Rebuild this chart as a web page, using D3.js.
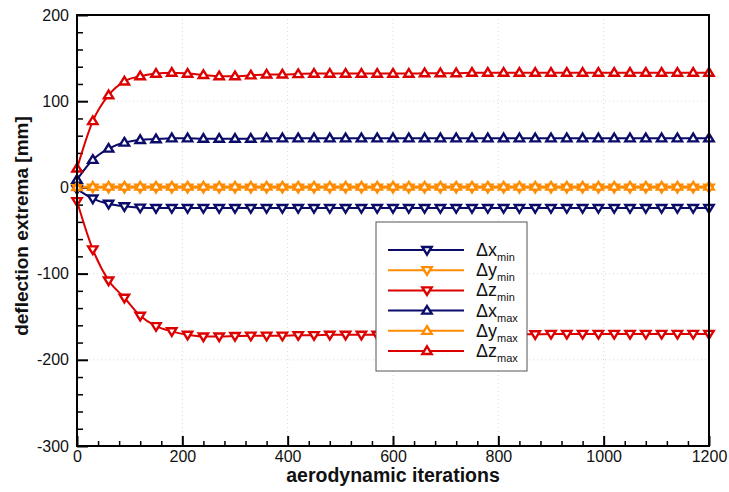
<!DOCTYPE html>
<html>
<head>
<meta charset="utf-8">
<script src="https://cdn.jsdelivr.net/npm/d3@7"></script>
<style>
  html, body { margin: 0; padding: 0; background: #fff; }
  svg { display: block; font-family: "Liberation Sans", Arial, sans-serif; }
</style>
</head>
<body>
<svg id="chart" width="729" height="492"></svg>
<script>
// iteration samples (every 30 aerodynamic iterations)
const iterations = [0, 30, 60, 90, 120, 150, 180, 210, 240, 270, 300, 330, 360, 390, 420, 450, 480, 510, 540, 570, 600,
  630, 660, 690, 720, 750, 780, 810, 840, 870, 900, 930, 960, 990, 1020, 1050, 1080, 1110, 1140, 1170, 1200];

const dxMin = [-2, -13, -19, -22, -23.5, -24, -24, -24, -24, -24, -24, -24, -24, -24, -24, -24, -24, -24, -24, -24, -24,
  -24, -24, -24, -24, -24, -24, -24, -24, -24, -24, -24, -24, -24, -24, -24, -24, -24, -24, -24, -24];
const dyMin = [0, -0.3, -0.4, -0.4, -0.4, -0.4, -0.4, -0.4, -0.4, -0.4, -0.4, -0.4, -0.4, -0.4, -0.4, -0.4, -0.4, -0.4, -0.4, -0.4, -0.4,
  -0.4, -0.4, -0.4, -0.4, -0.4, -0.4, -0.4, -0.4, -0.4, -0.4, -0.4, -0.4, -0.4, -0.4, -0.4, -0.4, -0.4, -0.4, -0.4, -0.4];
const dzMin = [-16, -72, -108, -128, -149, -161, -167, -171, -173, -173, -172.5, -172, -172, -172, -171.5, -171.5, -171, -171, -171, -171, -171,
  -171, -170.5, -170.5, -170.5, -170.5, -170.5, -170.5, -170.5, -170.5, -170, -170, -170, -170, -170, -170, -170, -170, -170, -170, -170];
const dxMax = [9, 32, 45, 52, 55, 56, 57, 57, 56.5, 56.5, 56.5, 56.5, 57, 57, 57, 57, 57, 57, 57, 57, 57,
  57, 57, 57, 57, 57, 57, 57, 57, 57, 57, 57, 57, 57, 57, 57, 57, 57, 57, 57, 57];
const dyMax = [0.5, 0.8, 1, 1, 1, 1, 1, 1, 1, 1, 1, 1, 1, 1, 1, 1, 1, 1, 1, 1, 1,
  1, 1, 1, 1, 1, 1, 1, 1, 1, 1, 1, 1, 1, 1, 1, 1, 1, 1, 1, 1];
const dzMax = [22, 77, 107, 123, 129, 132, 133, 132, 130.5, 129, 129, 130, 131, 131, 131.5, 132, 132, 132, 132, 132, 132,
  132, 132.5, 132.5, 132.5, 133, 133, 133, 133, 133, 133, 133, 133, 133, 133, 133, 133, 133, 133, 133, 133];

const xTicks = [0, 200, 400, 600, 800, 1000, 1200];
const yTicks = [-300, -200, -100, 0, 100, 200];

const series = [
  { sym: "x", sub: "min", values: dxMin, color: "#0b0b6a", dir: "down" },
  { sym: "y", sub: "min", values: dyMin, color: "#ff8c00", dir: "down" },
  { sym: "z", sub: "min", values: dzMin, color: "#dd0000", dir: "down" },
  { sym: "x", sub: "max", values: dxMax, color: "#0b0b6a", dir: "up" },
  { sym: "y", sub: "max", values: dyMax, color: "#ff8c00", dir: "up" },
  { sym: "z", sub: "max", values: dzMax, color: "#dd0000", dir: "up" }
];

const svg = d3.select("#chart");
const W = 729, H = 492;
const m = { left: 77, right: 20, top: 15, bottom: 46 };
const pw = W - m.left - m.right, ph = H - m.top - m.bottom;

const x = d3.scaleLinear().domain([0, 1200]).range([0, pw]);
const y = d3.scaleLinear().domain([-300, 200]).range([ph, 0]);

const g = svg.append("g").attr("transform", `translate(${m.left},${m.top})`);

// dotted grid at the major ticks
g.append("g").selectAll("line").data(xTicks.slice(1, -1)).join("line")
  .attr("x1", d => x(d)).attr("x2", d => x(d)).attr("y1", 0).attr("y2", ph)
  .attr("stroke", "#d8d8d8").attr("stroke-width", 1).attr("stroke-dasharray", "1,3");
g.append("g").selectAll("line").data(yTicks.slice(1, -1)).join("line")
  .attr("x1", 0).attr("x2", pw).attr("y1", d => y(d)).attr("y2", d => y(d))
  .attr("stroke", "#d8d8d8").attr("stroke-width", 1).attr("stroke-dasharray", "1,3");

// minor ticks (inward)
const xMinor = d3.range(0, 1201, 40).filter(v => v % 200 !== 0);
const yMinor = d3.range(-300, 201, 20).filter(v => v % 100 !== 0);
g.append("g").attr("transform", `translate(0,${ph})`)
  .call(d3.axisBottom(x).tickValues(xMinor).tickSize(-5).tickFormat(""))
  .call(a => a.select(".domain").remove())
  .call(a => a.selectAll("line").attr("stroke", "#000").attr("stroke-width", 1.5));
g.append("g")
  .call(d3.axisLeft(y).tickValues(yMinor).tickSize(-6).tickFormat(""))
  .call(a => a.select(".domain").remove())
  .call(a => a.selectAll("line").attr("stroke", "#000").attr("stroke-width", 1.5));

// major ticks with labels (plain hyphen for negatives)
const fmt = d => String(d);
const xAxis = g.append("g").attr("transform", `translate(0,${ph})`)
  .call(d3.axisBottom(x).tickValues(xTicks).tickSizeInner(-10).tickSizeOuter(0).tickPadding(5).tickFormat(fmt))
  .call(a => a.select(".domain").remove());
xAxis.selectAll("line").attr("stroke", "#000").attr("stroke-width", 2);
xAxis.selectAll("text").attr("font-size", 16).attr("fill", "#111")
  .attr("font-family", "Liberation Sans, Arial, sans-serif");

const yAxis = g.append("g")
  .call(d3.axisLeft(y).tickValues(yTicks).tickSizeInner(-11).tickSizeOuter(0).tickPadding(8).tickFormat(fmt))
  .call(a => a.select(".domain").remove());
yAxis.selectAll("line").attr("stroke", "#000").attr("stroke-width", 2);
yAxis.selectAll("text").attr("font-size", 16).attr("fill", "#111")
  .attr("font-family", "Liberation Sans, Arial, sans-serif");

// marker path: triangle pointing up or down
function tri(dir, s) {
  const h = s * 0.9, w = s * 0.55;
  return dir === "up"
    ? `M0,${-h * 0.6}L${w},${h * 0.4}L${-w},${h * 0.4}Z`
    : `M0,${h * 0.6}L${w},${-h * 0.4}L${-w},${-h * 0.4}Z`;
}

const line = d3.line().x((d, i) => x(iterations[i])).y(d => y(d)).curve(d3.curveMonotoneX);

const plot = g.append("g");
series.forEach(s => {
  plot.append("path").datum(s.values).attr("d", line)
    .attr("fill", "none").attr("stroke", s.color).attr("stroke-width", 2);
});
series.forEach(s => {
  plot.append("g").selectAll("path").data(s.values).join("path")
    .attr("transform", (d, i) => `translate(${x(iterations[i])},${y(d)})`)
    .attr("d", tri(s.dir, 8.5))
    .attr("fill", "#fff").attr("stroke", s.color).attr("stroke-width", 2.4)
    .attr("stroke-linejoin", "miter");
});

// frame
g.append("rect").attr("x", 0).attr("y", 0).attr("width", pw).attr("height", ph)
  .attr("fill", "none").attr("stroke", "#000").attr("stroke-width", 2);

// axis titles
svg.append("text").attr("x", m.left + pw / 2).attr("y", 482)
  .attr("text-anchor", "middle").attr("font-size", 19.5).attr("font-weight", "bold").attr("fill", "#111")
  .text("aerodynamic iterations");
svg.append("text").attr("transform", "translate(28,226) rotate(-90)")
  .attr("text-anchor", "middle").attr("font-size", 19).attr("font-weight", "bold").attr("fill", "#111")
  .text("deflection extrema [mm]");

// legend
const lg = svg.append("g").attr("transform", "translate(376,222)");
lg.append("rect").attr("x", 0).attr("y", 0).attr("width", 151).attr("height", 149)
  .attr("fill", "#fff").attr("stroke", "#555").attr("stroke-width", 1);
series.forEach((s, i) => {
  const yy = 28 + i * 20.2;
  lg.append("line").attr("x1", 12).attr("x2", 88).attr("y1", yy).attr("y2", yy)
    .attr("stroke", s.color).attr("stroke-width", 2);
  lg.append("path").attr("transform", `translate(51,${yy})`).attr("d", tri(s.dir, 8.5))
    .attr("fill", "#fff").attr("stroke", s.color).attr("stroke-width", 2.4);
  const t = lg.append("text").attr("x", 100).attr("y", yy + 6).attr("fill", "#111");
  t.append("tspan").attr("font-size", 18).text("\u0394" + s.sym);
  t.append("tspan").attr("font-size", 11).attr("dy", 5).text(s.sub);
});
</script>
</body>
</html>
